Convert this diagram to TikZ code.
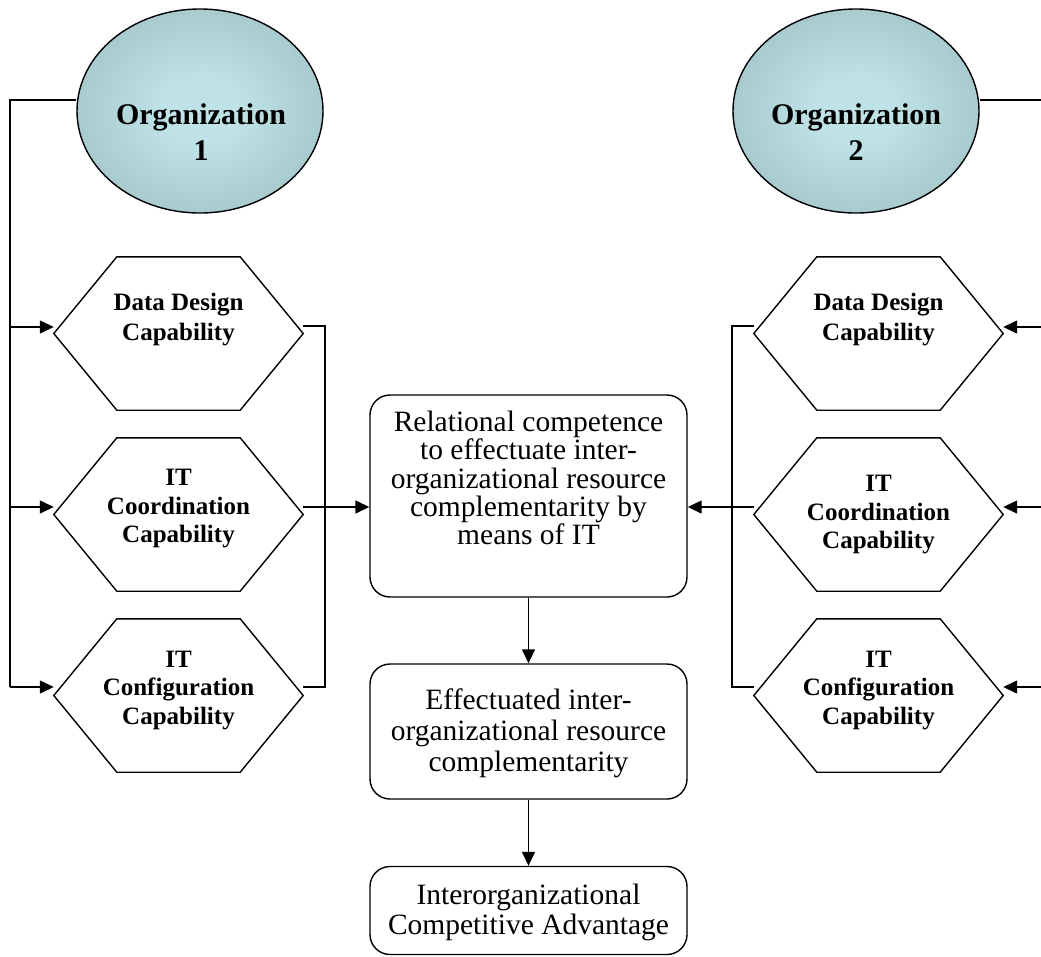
\documentclass[tikz,border=0pt]{standalone}
\usepackage{fontspec}
\setmainfont{Liberation Serif}
\usetikzlibrary{arrows.meta,calc,shapes.geometric}
\definecolor{orgin}{RGB}{190,226,230}
\definecolor{orgout}{RGB}{136,168,172}
\pgfdeclareradialshading{orgshade}{\pgfpoint{0bp}{0bp}}{color(0bp)=(orgin); color(8bp)=(orgin); color(50bp)=(orgout)}
\tikzset{
  conn/.style={line width=1.4pt, draw=black},
  arr/.style={conn, -{Triangle[length=14pt,width=13pt]}},
  org/.style={ellipse, draw, line width=1.4pt, shading=orgshade,
    minimum width=246pt, minimum height=204pt, inner sep=0pt},
  orgtext/.style={font=\fontsize{30}{36}\selectfont\bfseries, align=center, inner sep=0pt},
  hexframe/.style={minimum width=249pt, minimum height=153pt, inner sep=0pt},
  hextext/.style={font=\fontsize{25}{28.5}\selectfont\bfseries, align=center, inner sep=0pt},
  hextextwide/.style={font=\fontsize{25}{30}\selectfont\bfseries, align=center, inner sep=0pt},
  flowbox/.style={draw, line width=1.4pt, rounded corners=20pt, minimum width=317pt, inner sep=0pt},
  flowtext/.style={align=center, inner sep=0pt},
}
\newcommand{\hexdraw}[1]{\draw[conn, line join=miter] (#1.west) -- ([xshift=63pt]#1.north west) -- ([xshift=-63pt]#1.north east) -- (#1.east) -- ([xshift=-63pt]#1.south east) -- ([xshift=63pt]#1.south west) -- cycle;}
\begin{document}
\begin{tikzpicture}[x=1pt,y=-1pt]
\useasboundingbox (0,0) rectangle (1041,956);

% organizations
\node[org] (o1) at (200,111) {};
\node[org] (o2) at (856,111) {};
\node[orgtext] (o1t) at (201,132) {Organization\\1};
\node[orgtext] (o2t) at (856,132) {Organization\\2};

% left hexagons
\node[hexframe] (h1) at (178.5,333.5) {};
\node[hexframe] (h2) at (178.5,514.5) {};
\node[hexframe] (h3) at (178.5,695.5) {};
\hexdraw{h1}\hexdraw{h2}\hexdraw{h3}
\node[hextextwide] (h1t) at (178.5,320) {Data Design\\Capability};
\node[hextext] (h2t) at (178.5,508.75) {IT\\Coordination\\Capability};
\node[hextext] (h3t) at (178.5,690.25) {IT\\Configuration\\Capability};

% right hexagons
\node[hexframe] (k1) at (878.5,333.5) {};
\node[hexframe] (k2) at (878.5,514.5) {};
\node[hexframe] (k3) at (878.5,695.5) {};
\hexdraw{k1}\hexdraw{k2}\hexdraw{k3}
\node[hextextwide] (k1t) at (878.5,320) {Data Design\\Capability};
\node[hextext] (k2t) at (878.5,514.75) {IT\\Coordination\\Capability};
\node[hextext] (k3t) at (878.5,690.25) {IT\\Configuration\\Capability};

% central boxes
\node[flowbox, minimum height=202pt] (b1) at (528.5,496) {};
\node[flowbox, minimum height=135pt] (b2) at (528.5,731.5) {};
\node[flowbox, minimum height=88pt] (b3) at (528.5,910.5) {};
\node[flowtext, font=\fontsize{29.5}{28.3}\selectfont] (b1t) at (528.5,478)
  {Relational competence\\to effectuate inter-\\organizational resource\\complementarity by\\means of IT};
\node[flowtext, font=\fontsize{29.5}{31}\selectfont] (b2t) at (528.5,733.5)
  {Effectuated inter-\\organizational resource\\complementarity};
\node[flowtext, font=\fontsize{29.5}{30}\selectfont] (b3t) at (528.5,912.5)
  {Interorganizational\\Competitive Advantage};

% left bus
\coordinate (L0) at (10,100);
\coordinate (L1) at (10,327);
\coordinate (L2) at (10,507);
\coordinate (L3) at (10,687);
\draw[conn] (L0 -| o1.west) -- (L0) -- (L3);
\draw[arr] (L1) -- (L1 -| h1.west);
\draw[arr] (L2) -- (L2 -| h2.west);
\draw[arr] (L3) -- (L3 -| h3.west);

% left collector
\coordinate (R1) at (325,326);
\coordinate (R3) at (325,687);
\coordinate (RM) at (325,507);
\draw[conn] (R1 -| h1.east) -- (R1) -- (R3) -- (R3 -| h3.east);
\draw[arr] (RM -| h2.east) -- (RM -| b1.west);

% right bus (continues beyond the picture)
\coordinate (E0) at (1041,100);
\coordinate (E1) at (1041,327);
\coordinate (E2) at (1041,507);
\coordinate (E3) at (1041,687);
\draw[conn] (E0 -| o2.east) -- (E0);
\draw[arr] (E1) -- (E1 -| k1.east);
\draw[arr] (E2) -- (E2 -| k2.east);
\draw[arr] (E3) -- (E3 -| k3.east);

% right collector
\coordinate (Q1) at (732,326);
\coordinate (Q3) at (732,687);
\coordinate (QM) at (732,507);
\draw[conn] (Q1 -| k1.west) -- (Q1) -- (Q3) -- (Q3 -| k3.west);
\draw[arr] (QM -| k2.west) -- (QM -| b1.east);

% vertical flow
\draw[arr] (b1.south) -- (b2.north);
\draw[arr] (b2.south) -- (b3.north);
\end{tikzpicture}
\end{document}
